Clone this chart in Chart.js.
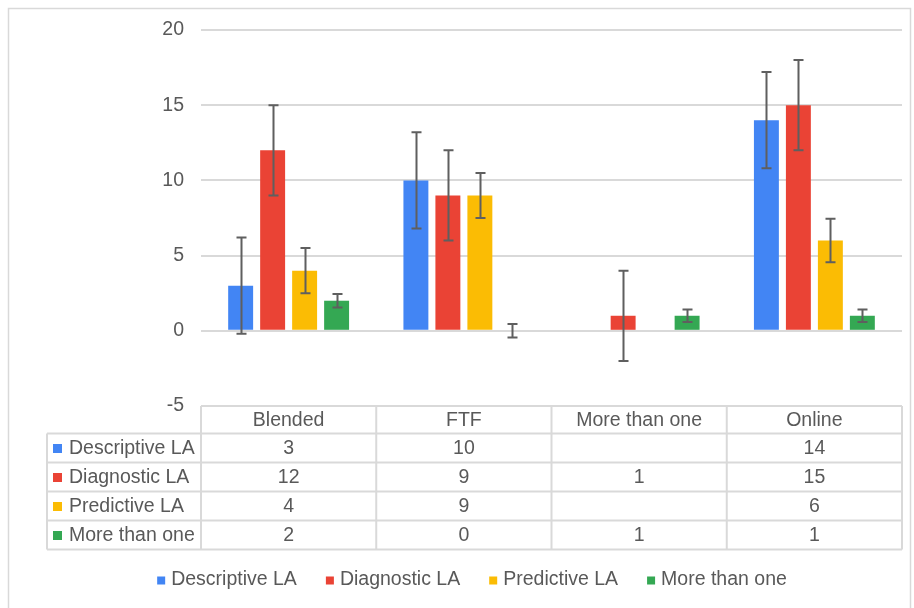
<!DOCTYPE html>
<html>
<head>
<meta charset="utf-8">
<script src="https://cdn.jsdelivr.net/npm/chart.js@4.4.0/dist/chart.umd.min.js"></script>
<style>
  html, body { margin: 0; padding: 0; background: #ffffff; }
  canvas { display: block; }
</style>
</head>
<body>
<canvas id="c" width="914" height="608"></canvas>
<script>
// ---- Data ----
const categories = ['Blended', 'FTF', 'More than one', 'Online'];
const seriesNames = ['Descriptive LA', 'Diagnostic LA', 'Predictive LA', 'More than one'];
const descriptiveLA = [3, 10, null, 14];
const diagnosticLA = [12, 9, 1, 15];
const predictiveLA = [4, 9, null, 6];
const moreThanOne = [2, 0, 1, 1];
const descriptiveErr = [3.2, 3.2, null, 3.2];
const diagnosticErr = [3, 3, 3, 3];
const predictiveErr = [1.5, 1.5, null, 1.45];
const moreThanOneErr = [0.45, 0.45, 0.42, 0.42];
const yTicks = [-5, 0, 5, 10, 15, 20];

const colors = ['#4285F4', '#EA4335', '#FBBC04', '#34A853'];
const textColor = '#595959';
const lineColor = '#d9d9d9';
const FONT = '"Liberation Sans", Arial, sans-serif';
const FS = 19.5;

const seriesValues = [descriptiveLA, diagnosticLA, predictiveLA, moreThanOne];
const seriesErrs = [descriptiveErr, diagnosticErr, predictiveErr, moreThanOneErr];

const datasets = seriesNames.map((name, i) => ({
  label: name,
  data: seriesValues[i],
  errors: seriesErrs[i],
  backgroundColor: colors[i],
  borderWidth: 0,
  categoryPercentage: 0.73,
  barPercentage: 0.78
}));

const frame = {
  id: 'frame',
  beforeDraw(chart) {
    const ctx = chart.ctx;
    ctx.save();
    ctx.fillStyle = '#ffffff';
    ctx.fillRect(0, 0, chart.width, chart.height);
    ctx.strokeStyle = '#d9d9d9';
    ctx.lineWidth = 1.5;
    ctx.strokeRect(8.5, 8.5, 902, 640);
    ctx.restore();
  }
};

const errorBars = {
  id: 'errorBars',
  afterDatasetsDraw(chart) {
    const ctx = chart.ctx;
    const y = chart.scales.y;
    ctx.save();
    ctx.strokeStyle = '#5f5f5f';
    ctx.lineWidth = 2;
    chart.data.datasets.forEach((ds, di) => {
      const meta = chart.getDatasetMeta(di);
      meta.data.forEach((bar, i) => {
        const v = ds.data[i];
        const e = ds.errors[i];
        if (v === null || e === null || e === undefined) return;
        const x = Math.round(bar.x) + 0.5;
        const top = y.getPixelForValue(v + e);
        const bot = y.getPixelForValue(v - e);
        ctx.beginPath();
        ctx.moveTo(x, top); ctx.lineTo(x, bot);
        ctx.moveTo(x - 5, top); ctx.lineTo(x + 5, top);
        ctx.moveTo(x - 5, bot); ctx.lineTo(x + 5, bot);
        ctx.stroke();
      });
    });
    ctx.restore();
  }
};

const dataTable = {
  id: 'dataTable',
  afterDraw(chart) {
    const ctx = chart.ctx;
    const xs = chart.scales.x;
    const area = chart.chartArea;
    const n = categories.length;
    const cw = (area.right - area.left) / n;
    const top = area.bottom;
    const headH = 27.5;
    const rowH = 29;
    const labelLeft = 47;
    const bottom = top + headH + rowH * seriesNames.length;
    ctx.save();
    ctx.strokeStyle = lineColor;
    ctx.lineWidth = 2;
    ctx.beginPath();
    ctx.moveTo(area.left, top); ctx.lineTo(area.right, top);
    for (let r = 0; r <= seriesNames.length; r++) {
      const yy = top + headH + r * rowH;
      ctx.moveTo(labelLeft, yy); ctx.lineTo(area.right, yy);
    }
    ctx.moveTo(labelLeft, top + headH); ctx.lineTo(labelLeft, bottom);
    for (let c = 0; c <= n; c++) {
      const xx = area.left + c * cw;
      ctx.moveTo(xx, top); ctx.lineTo(xx, bottom);
    }
    ctx.stroke();

    ctx.fillStyle = textColor;
    ctx.font = FS + 'px ' + FONT;
    ctx.textBaseline = 'middle';
    ctx.textAlign = 'center';
    categories.forEach((cat, c) => {
      const cx = xs.getPixelForValue(c);
      ctx.fillText(cat, cx, top + headH / 2 + 1);
    });
    seriesNames.forEach((name, r) => {
      const cy = top + headH + r * rowH + rowH / 2 + 1;
      ctx.fillStyle = colors[r];
      ctx.fillRect(53, cy - 5, 9, 9);
      ctx.fillStyle = textColor;
      ctx.textAlign = 'left';
      ctx.fillText(name, 69, cy);
      ctx.textAlign = 'center';
      seriesValues[r].forEach((v, c) => {
        if (v === null) return;
        ctx.fillText(String(v), xs.getPixelForValue(c), cy);
      });
    });
    ctx.restore();
  }
};

const customLegend = {
  id: 'customLegend',
  afterDraw(chart) {
    const ctx = chart.ctx;
    ctx.save();
    ctx.font = FS + 'px ' + FONT;
    ctx.textBaseline = 'middle';
    ctx.textAlign = 'left';
    const sq = 8, gapSq = 6, gapItem = 29;
    const widths = seriesNames.map(n => sq + gapSq + ctx.measureText(n).width);
    const total = widths.reduce((a, b) => a + b, 0) + gapItem * (seriesNames.length - 1);
    let x = 472 - total / 2;
    const cy = 580;
    seriesNames.forEach((n, i) => {
      ctx.fillStyle = colors[i];
      ctx.fillRect(x, cy - 3.5, sq, sq);
      ctx.fillStyle = textColor;
      ctx.fillText(n, x + sq + gapSq, cy);
      x += widths[i] + gapItem;
    });
    ctx.restore();
  }
};

new Chart(document.getElementById('c'), {
  type: 'bar',
  data: { labels: categories, datasets },
  options: {
    responsive: false,
    animation: false,
    devicePixelRatio: 1,
    layout: { padding: { left: 0, right: 12, top: 30, bottom: 202 } },
    plugins: { legend: { display: false }, tooltip: { enabled: false } },
    scales: {
      x: { display: false },
      y: {
        min: yTicks[0],
        max: yTicks[yTicks.length - 1],
        afterBuildTicks(scale) { scale.ticks = yTicks.map(v => ({ value: v })); },
        afterFit(scale) { scale.width = 201; },
        border: { display: false },
        grid: { color: lineColor, lineWidth: 2, drawTicks: false },
        ticks: { color: textColor, font: { family: FONT, size: FS }, padding: 17 }
      }
    }
  },
  plugins: [frame, errorBars, dataTable, customLegend]
});
</script>
</body>
</html>
